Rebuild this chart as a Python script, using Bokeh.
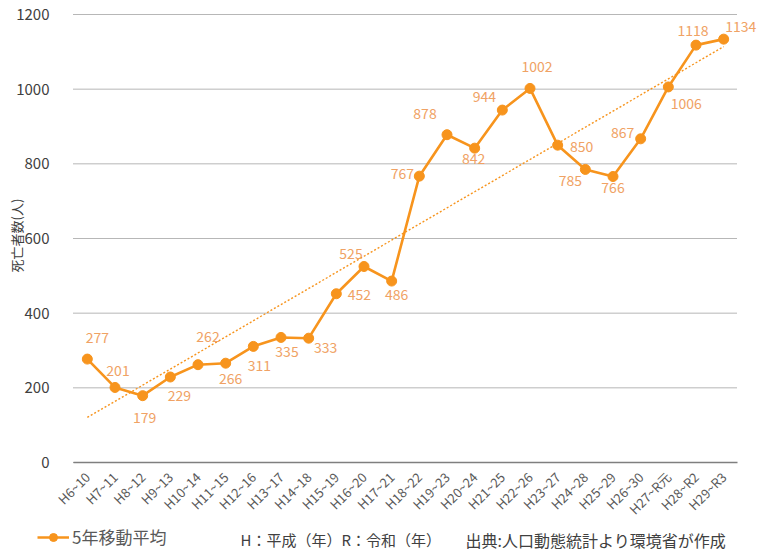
import numpy as np
from bokeh.plotting import figure
from bokeh.models import ColumnDataSource, Label, Legend, LegendItem, FixedTicker, Range1d
from bokeh.embed import file_html
from bokeh.resources import INLINE

# ---- data ----
periods = ["H6~10", "H7~11", "H8~12", "H9~13", "H10~14", "H11~15", "H12~16", "H13~17",
           "H14~18", "H15~19", "H16~20", "H17~21", "H18~22", "H19~23", "H20~24", "H21~25",
           "H22~26", "H23~27", "H24~28", "H25~29", "H26~30", "H27~R元", "H28~R2", "H29~R3"]
deaths = [277, 201, 179, 229, 262, 266, 311, 335, 333, 452, 525, 486,
          767, 878, 842, 944, 1002, 850, 785, 766, 867, 1006, 1118, 1134]
y_ticks = [0, 200, 400, 600, 800, 1000, 1200]
series_name = "5年移動平均"
y_title = "死亡者数(人)"
note_era = "H：平成（年）R：令和（年）"
note_src = "出典:人口動態統計より環境省が作成"

# label offsets (screen px; dx right, dy up)
lab_dx = [10, 3, 2, 9, 10, 5, 6, 6, 17, 23, -13, 5, -17, -22, -1, -18, 7, 24, -15, 0, -18, 18, -3, 17]
lab_dy = [22, 17, -22, -18, 28, -15, -19, -14, -9, -1, 13, -13, 3, 21, -10, 14, 22, -1, -11, -11, 6, -17, 15, 13]

LINE = "#F7941D"
LABEL = "#F0A264"
FONT = "Noto Sans CJK JP"

# ---- layout (pixels) ----
W, H = 758, 551
PL, PR, PT, PB = 73, 737, 14, 462          # plotting area inside the canvas
n = len(periods)
y_max = y_ticks[-1]
ppx = (PR - PL) / n
ppy = (PB - PT) / y_max
x_lo, x_hi = -0.5, n - 0.5

idx = list(range(n))
k, b = np.polyfit(idx, deaths, 1)          # linear trend of the series
trend = [k * i + b for i in idx]

src = ColumnDataSource(dict(x=idx, y=deaths, trend=trend))

p = figure(width=W, height=H,
           x_range=Range1d(x_lo - PL / ppx, x_hi + (W - PR) / ppx),
           y_range=Range1d(-(H - PB) / ppy, y_max + PT / ppy),
           output_backend="svg", toolbar_location=None,
           min_border_left=0, min_border_right=0, min_border_top=0, min_border_bottom=0)
p.outline_line_color = None
p.background_fill_color = "white"
p.grid.visible = False

# horizontal gridlines over the plotting area only
p.segment(x0=[x_lo] * len(y_ticks), x1=[x_hi] * len(y_ticks), y0=y_ticks, y1=y_ticks,
          line_color="#6E6E6E", line_width=1, line_dash="1 1")

p.line("x", "trend", source=src, line_color=LINE, line_width=1.4, line_dash="2 2")
lr = p.line("x", "y", source=src, line_color=LINE, line_width=2.6)
cr = p.scatter("x", "y", source=src, size=10, fill_color=LINE, line_color=LINE)

for i, v, dx, dy in zip(idx, deaths, lab_dx, lab_dy):
    p.add_layout(Label(x=i, y=v, x_offset=dx, y_offset=dy, text=str(v),
                       text_font=FONT, text_font_size="14px", text_color=LABEL,
                       text_align="center", text_baseline="middle"))

# axes pinned to the plotting area
p.yaxis.fixed_location = x_lo
p.yaxis.ticker = FixedTicker(ticks=y_ticks)
p.yaxis.axis_line_color = None
p.yaxis.major_tick_line_color = None
p.yaxis.minor_tick_line_color = None
p.yaxis.major_label_text_font = FONT
p.yaxis.major_label_text_font_size = "15px"
p.yaxis.major_label_text_color = "#404040"
p.yaxis.major_label_standoff = 18

p.xaxis.fixed_location = 0
p.xaxis.bounds = (x_lo, x_hi)
p.xaxis.ticker = FixedTicker(ticks=idx)
p.xaxis.major_label_overrides = {i: lab for i, lab in zip(idx, periods)}
p.xaxis.axis_line_color = "#7F7F7F"
p.xaxis.axis_line_width = 1.5
p.xaxis.major_tick_line_color = None
p.xaxis.minor_tick_line_color = None
p.xaxis.major_label_orientation = np.pi / 4
p.xaxis.major_label_text_font = FONT
p.xaxis.major_label_text_font_size = "13px"
p.xaxis.major_label_text_color = "#595959"
p.xaxis.major_label_standoff = 6

# y title
p.add_layout(Label(x=16, y=H - 235, x_units="screen", y_units="screen", text=y_title,
                   angle=np.pi / 2, text_font=FONT, text_font_size="13px", text_color="#404040",
                   text_align="center", text_baseline="middle"))

# legend + notes under the chart
legend = Legend(items=[LegendItem(label=series_name, renderers=[lr, cr])],
                location=(37, 2), orientation="horizontal",
                label_text_font=FONT, label_text_font_size="17px", label_text_color="#595959",
                glyph_width=32, glyph_height=20, label_standoff=3, padding=0, margin=0,
                label_height=20, border_line_color=None, background_fill_alpha=0)
p.add_layout(legend, "center")
p.add_layout(Label(x=240, y=H - 539, x_units="screen", y_units="screen", text=note_era,
                   text_font=FONT, text_font_size="15px", text_color="#404040",
                   text_baseline="middle"))
p.add_layout(Label(x=465, y=H - 539, x_units="screen", y_units="screen", text=note_src,
                   text_font=FONT, text_font_size="16px", text_color="#404040",
                   text_baseline="middle"))

open("out.html", "w").write(file_html(p, INLINE))
